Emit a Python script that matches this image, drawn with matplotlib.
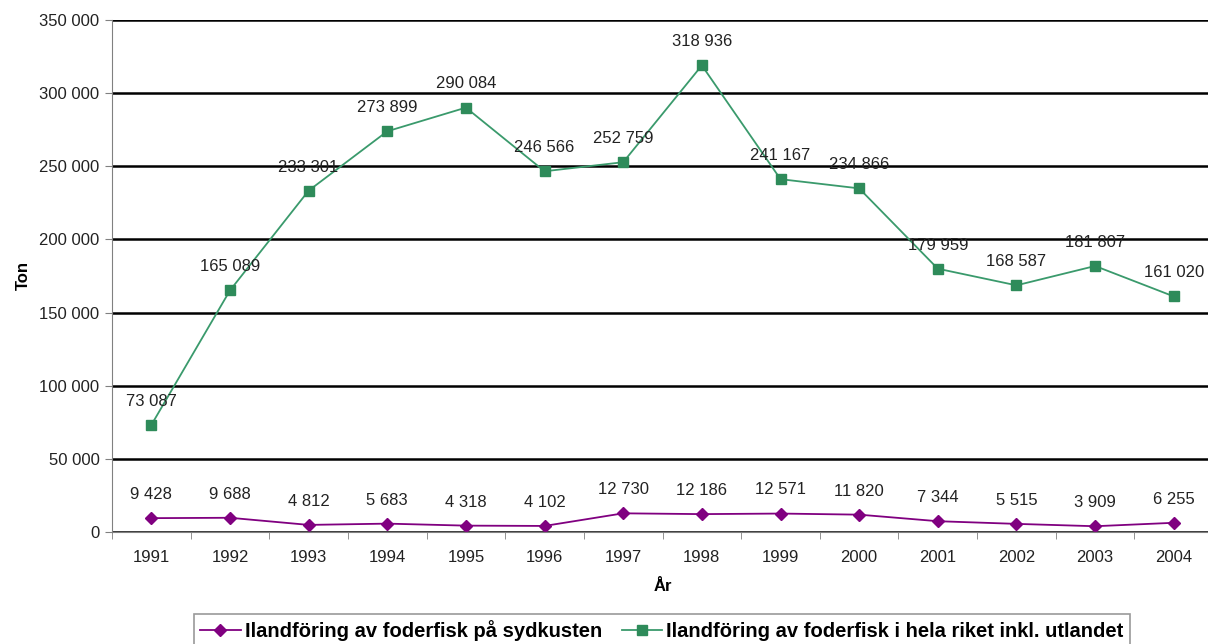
import matplotlib
matplotlib.use('Agg')
import matplotlib.pyplot as plt
from matplotlib.ticker import FuncFormatter

years = ['1991', '1992', '1993', '1994', '1995', '1996', '1997',
         '1998', '1999', '2000', '2001', '2002', '2003', '2004']
sydkusten = [9428, 9688, 4812, 5683, 4318, 4102, 12730,
             12186, 12571, 11820, 7344, 5515, 3909, 6255]
hela_riket = [73087, 165089, 233301, 273899, 290084, 246566, 252759,
              318936, 241167, 234866, 179959, 168587, 181807, 161020]

label_syd = 'Ilandföring av foderfisk på sydkusten'
label_hela = 'Ilandföring av foderfisk i hela riket inkl. utlandet'

purple = '#800080'
green = '#3a9a6c'
green_marker = '#2e8b5a'

plt.rcParams['font.family'] = ['Liberation Sans', 'DejaVu Sans']

def fmt(v):
	return '{:,}'.format(int(v)).replace(',', ' ')

fig = plt.figure(figsize=(12.08, 6.44), dpi=100)
ax = fig.add_axes([0.0927, 0.174, 0.9115, 0.795])

x = list(range(len(years)))
ax.plot(x, sydkusten, color=purple, lw=1.3, marker='D', ms=6,
        mfc=purple, mec=purple, label=label_syd)
ax.plot(x, hela_riket, color=green, lw=1.3, marker='s', ms=7,
        mfc=green_marker, mec=green_marker, label=label_hela)

for xi, v in zip(x, sydkusten):
	ax.annotate(fmt(v), (xi, v), xytext=(0, 17), textcoords='offset points',
	            ha='center', va='center', fontsize=12, color='#222222')
for xi, v in zip(x, hela_riket):
	ax.annotate(fmt(v), (xi, v), xytext=(0, 17), textcoords='offset points',
	            ha='center', va='center', fontsize=12, color='#222222')

ax.set_xlim(-0.5, len(years) - 0.5)
ax.set_ylim(0, 350000)
ax.set_yticks(range(0, 350001, 50000))
ax.yaxis.set_major_formatter(FuncFormatter(lambda v, p: fmt(v)))
ax.set_xticks(x)
ax.set_xticklabels(years)
ax.set_xticks([i + 0.5 for i in range(-1, len(years))], minor=True)
ax.tick_params(axis='x', which='major', length=0, labelsize=12, pad=13,
               labelcolor='#222222')
ax.tick_params(axis='x', which='minor', length=5, color='#808080')
ax.tick_params(axis='y', length=5, color='#808080', labelsize=12, pad=4,
               labelcolor='#222222')

ax.grid(axis='y', color='black', lw=1.8)
ax.set_axisbelow(True)
for s in ['top', 'right']:
	ax.spines[s].set_visible(False)
ax.spines['left'].set_color('#808080')
ax.spines['bottom'].set_color('#808080')

ax.set_ylabel('Ton', fontsize=12, fontweight='bold', labelpad=6)
ax.set_xlabel('År', fontsize=12, fontweight='bold', labelpad=10)

leg = fig.legend(loc='center', bbox_to_anchor=(0.548, 0.021), ncol=2,
                 frameon=True, fancybox=False, handlelength=2.0,
                 handletextpad=0.2, columnspacing=1.0, borderpad=0.3,
                 prop={'weight': 'bold', 'size': 14.5})
leg.get_frame().set_edgecolor('#808080')
leg.get_frame().set_linewidth(1.2)

fig.savefig('out.png', dpi=100)
